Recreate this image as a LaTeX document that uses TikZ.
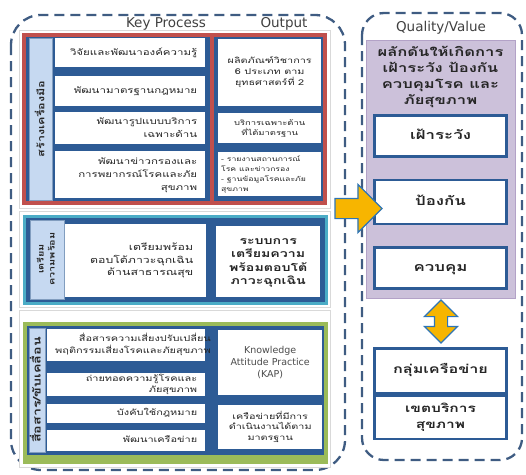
\documentclass[tikz,border=0pt]{standalone}
\usepackage{fontspec}
\usepackage{graphicx}
\setmainfont{DejaVu Sans}
\newfontfamily\thai[Script=Thai]{Loma}
\usetikzlibrary{positioning, shapes.arrows}
\definecolor{frameblue}{HTML}{2D5B95}
\definecolor{framered}{HTML}{C0504D}
\definecolor{frameteal}{HTML}{4BACC6}
\definecolor{framegreen}{HTML}{9BBB59}
\definecolor{stripblue}{HTML}{C6D9F1}
\definecolor{qvpurple}{HTML}{CCC1DA}
\definecolor{qvedge}{HTML}{B3A2C7}
\definecolor{dashblue}{HTML}{3F5C82}
\definecolor{arroworange}{HTML}{F7B500}
\definecolor{arrowedge}{HTML}{2E75B6}
% wide Thai lines (the reference text is set wide)
\newcommand{\thaiR}[1]{\scalebox{1.35}[1]{\begin{tabular}{@{}r@{}}#1\end{tabular}}}
\newcommand{\thaiC}[1]{\scalebox{1.35}[1]{\begin{tabular}{@{}c@{}}#1\end{tabular}}}
\newcommand{\thaiL}[1]{\scalebox{1.35}[1]{\begin{tabular}{@{}l@{}}#1\end{tabular}}}
\tikzset{
every node/.style={font=\thai\fontsize{8}{10.5}\selectfont, text=black!85}, % Thai text everywhere
proc/.style={fill=white, anchor=north west, inner xsep=8pt, inner ysep=0pt, align=right, font=\thai\fontsize{8.5}{13}\selectfont}, % white box of a process
outbox/.style={fill=white, anchor=north west, inner xsep=3pt, inner ysep=0pt, align=center}, % white box of an output
strip/.style={fill=stripblue, draw=frameblue!60, thin}, % side strip of a group
sidelabel/.style={rotate=90, align=center, font=\thai\bfseries\fontsize{9.3}{10}\selectfont},
heading/.style={font=\fontsize{13.5}{15}\selectfont, text=black!75}, % column headings
qbox/.style={draw=frameblue, line width=2.5pt, fill=white, minimum width=132pt, minimum height=41pt, font=\thai\bfseries\fontsize{12.5}{15}\selectfont},
dashframe/.style={draw=dashblue, line width=2.3pt, dash pattern=on 10pt off 6pt},
panel/.style={draw=gray!30, line width=1pt, fill=white},
}

\begin{document}
\begin{tikzpicture}[x=1pt, y=-1pt]
\useasboundingbox (0,0) rectangle (526,474);

% outer dashed frames
\draw[dashframe, rounded corners=30pt] (11,15) rectangle (345,470);
\draw[dashframe, rounded corners=22pt] (362,13) rectangle (522,460);

\node[heading] (keyp) at (166,24) {Key Process};
\node[heading] (outp) at (284,24) {Output};

% group 1: tools
\draw[panel] (19,30) rectangle (330,208);
\draw[draw=framered, line width=4pt, fill=frameblue] (24,35) rectangle (325,203);
\fill[framered] (209.5,35) rectangle (213.5,203);
\draw[strip] (29,38) rectangle (52,200);
\node[sidelabel] (tools) at (41,119) {\thaiC{สร้างเครื่องมือ}};

\node[proc, text width=134pt, minimum height=29pt] (p1) at (55,38) {\thaiR{วิจัยและพัฒนาองค์ความรู้}};
\node[proc, text width=134pt, minimum height=30pt] (p2) at (55,76) {\thaiR{พัฒนามาตรฐานกฎหมาย}};
\node[proc, text width=134pt, minimum height=32pt] (p3) at (55,112) {\thaiR{พัฒนารูปแบบบริการ\\เฉพาะด้าน}};
\node[proc, text width=134pt, minimum height=47pt] (p4) at (55,151) {\thaiR{พัฒนาข่าวกรองและ\\การพยากรณ์โรคและภัย\\สุขภาพ}};

\node[outbox, text width=97pt, minimum height=67pt] (o1) at (218,39) {\thaiC{ผลิตภัณฑ์วิชาการ\\6 ประเภท ตาม\\ยุทธศาสตร์ที่ 2}};
\node[outbox, text width=97pt, minimum height=30pt, font=\thai\fontsize{7}{9.5}\selectfont] (o2) at (218,113) {\thaiC{บริการเฉพาะด้าน\\ที่ได้มาตรฐาน}};
\node[outbox, text width=97pt, minimum height=44pt, align=left, font=\thai\fontsize{6.4}{10}\selectfont] (o3) at (218,152) {\thaiL{- รายงานสถานการณ์\\โรค และข่าวกรอง\\- ฐานข้อมูลโรคและภัย\\สุขภาพ}};

% group 2: readiness
\draw[panel] (19,211) rectangle (330,307);
\draw[draw=frameteal, line width=3pt, fill=frameblue] (24,216) rectangle (326,303);
\draw[strip] (30,220) rectangle (64,299);
\node[sidelabel, font=\thai\bfseries\fontsize{8}{11}\selectfont] (ready) at (47,259) {\thaiC{เตรียม\\ความพร้อม}};
\node[proc, text width=115pt, inner xsep=13pt, minimum height=73pt, font=\thai\fontsize{9.1}{12.5}\selectfont] (r1) at (65,224) {\thaiR{เตรียมพร้อม\\ตอบโต้ภาวะฉุกเฉิน\\ด้านสาธารณสุข}};
\node[outbox, text width=98pt, minimum height=71pt, font=\thai\bfseries\fontsize{10.5}{13.3}\selectfont] (r2) at (216,226) {\thaiC{ระบบการ\\เตรียมความ\\พร้อมตอบโต้\\ภาวะฉุกเฉิน}};

% group 3: communication
\draw[panel] (19,310) rectangle (330,467);
\fill[framegreen] (23,322) rectangle (328,464);
\fill[frameblue] (27,326) rectangle (324,455);
\draw[strip] (29,328) rectangle (45,452);
\node[sidelabel, font=\thai\bfseries\fontsize{10.5}{11}\selectfont] (comm) at (37,390) {\thaiC{สื่อสาร/ขับเคลื่อน}};

\node[proc, text width=142pt, minimum height=32pt, font=\thai\fontsize{8.1}{12}\selectfont] (q1) at (47,329) {\thaiR{สื่อสารความเสี่ยงปรับเปลี่ยน\\พฤติกรรมเสี่ยงโรคและภัยสุขภาพ}};
\node[proc, text width=142pt, minimum height=23pt, font=\thai\fontsize{8.1}{11}\selectfont] (q2) at (47,373) {\thaiR{ถ่ายทอดความรู้โรคและ\\ภัยสุขภาพ}};
\node[proc, text width=142pt, minimum height=19pt, font=\thai\fontsize{8.1}{11}\selectfont] (q3) at (47,404) {\thaiR{บังคับใช้กฎหมาย}};
\node[proc, text width=142pt, minimum height=21pt, font=\thai\fontsize{8.1}{11}\selectfont] (q4) at (47,430) {\thaiR{พัฒนาเครือข่าย}};

\node[outbox, text width=98pt, minimum height=65pt, font=\fontsize{9.5}{12}\selectfont, text=black!70] (k1) at (218,330) {Knowledge\\Attitude Practice\\(KAP)};
\node[outbox, text width=98pt, minimum height=44pt] (k2) at (218,405) {\thaiC{เครือข่ายที่มีการ\\ดำเนินงานได้ตาม\\มาตรฐาน}};

% quality / value
\node[heading] (qual) at (441,28) {Quality/Value};
\node[fill=qvpurple, draw=qvedge, minimum width=149pt, minimum height=258pt, anchor=north] (qv) at (440.5,40) {};
\node[below=2pt of qv.north, align=center, font=\thai\bfseries\fontsize{12.3}{16}\selectfont] (qvt) {\thaiC{ผลักดันให้เกิดการ\\เฝ้าระวัง ป้องกัน\\ควบคุมโรค และ\\ภัยสุขภาพ}};

\node[qbox] (watch) at (440.5,136) {\thaiC{เฝ้าระวัง}};
\node[qbox, below=21pt of watch, minimum height=44pt] (prevent) {\thaiC{ป้องกัน}};
\node[qbox, below=21pt of prevent] (control) {\thaiC{ควบคุม}};

\node[qbox, minimum height=45pt, anchor=north, font=\thai\bfseries\fontsize{12}{15}\selectfont] (net) at (440.5,347) {\thaiC{กลุ่มเครือข่าย}};
\node[qbox, minimum height=43pt, below=0pt of net, align=center, font=\thai\bfseries\fontsize{11.5}{16}\selectfont] (zone) {\thaiC{เขตบริการ\\สุขภาพ}};

% arrows
\node[single arrow, fill=arroworange, draw=arrowedge, line width=1.2pt, minimum height=47pt, inner sep=9.5pt, single arrow head extend=14pt] (bigarrow) at (353.5,208.5) {};
\node[double arrow, fill=arroworange, draw=arrowedge, line width=1.2pt, rotate=90, minimum height=43pt, inner sep=6pt, double arrow head extend=10pt] (linkarrow) at (441,321.5) {};
\end{tikzpicture}
\end{document}
